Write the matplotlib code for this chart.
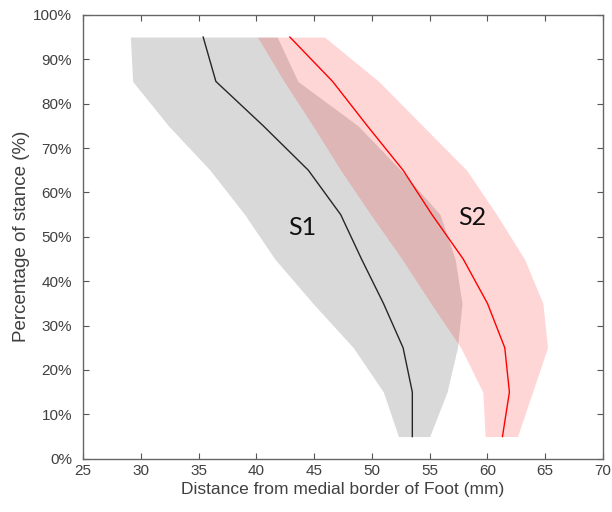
import numpy as np
import matplotlib.pyplot as plt
from matplotlib.ticker import FuncFormatter

plt.rcParams['font.family'] = ['Liberation Sans', 'DejaVu Sans']

# stance levels (%)
stance = [5, 15, 25, 35, 45, 55, 65, 75, 85, 95]

# S1 mean and band (mm)
s1_mean = [53.5, 53.5, 52.7, 51.0, 49.1, 47.3, 44.5, 40.6, 36.5, 35.4]
s1_low = [52.3, 51.0, 48.4, 44.9, 41.6, 39.0, 36.0, 32.4, 29.3, 29.1]
s1_high = [55.0, 56.5, 57.4, 57.8, 57.2, 55.9, 52.5, 48.8, 43.6, 41.8]

# S2 mean and band (mm)
s2_mean = [61.3, 61.9, 61.5, 60.0, 57.9, 55.2, 52.7, 49.6, 46.6, 42.9]
s2_low = [59.8, 59.6, 57.7, 55.1, 52.6, 49.9, 47.3, 44.9, 42.4, 40.1]
s2_high = [62.6, 63.9, 65.2, 64.8, 63.2, 60.8, 58.2, 54.4, 50.6, 45.9]

fig = plt.figure(figsize=(6.12, 5.12), dpi=100)
ax = fig.add_axes([0.1356, 0.104, 0.8497, 0.867])

ax.fill_betweenx(stance, s1_low, s1_high, color='#d9d9d9', lw=0)
ax.fill_betweenx(stance, s2_low, s2_high, color='red', alpha=0.16, lw=0)
ax.plot(s1_mean, stance, color='#262626', lw=1)
ax.plot(s2_mean, stance, color='red', lw=1)

ax.text(44.0, 52, 'S1', fontsize=18, family=['Lato', 'DejaVu Sans'],
        ha='center', va='center', color='#111111')
ax.text(58.7, 54.3, 'S2', fontsize=18, family=['Lato', 'DejaVu Sans'],
        ha='center', va='center', color='#111111')

ax.set_xlim(25, 70)
ax.set_ylim(0, 100)
ax.set_xticks(np.arange(25, 71, 5))
ax.set_yticks(np.arange(0, 101, 10))
ax.yaxis.set_major_formatter(FuncFormatter(lambda v, p: '%d%%' % v))

ax.tick_params(direction='in', top=True, right=True, length=4,
               width=0.8, color='#555555', labelsize=11,
               labelcolor='#404040')
ax.tick_params(axis='y', pad=8)
for s in ax.spines.values():
    s.set_color('#666666')
    s.set_linewidth(1)

ax.set_xlabel('Distance from medial border of Foot (mm)', fontsize=12.5,
              color='#404040', labelpad=3)
ax.set_ylabel('Percentage of stance (%)', fontsize=13.5,
              color='#404040', labelpad=2)

fig.savefig('out.png', dpi=100)
